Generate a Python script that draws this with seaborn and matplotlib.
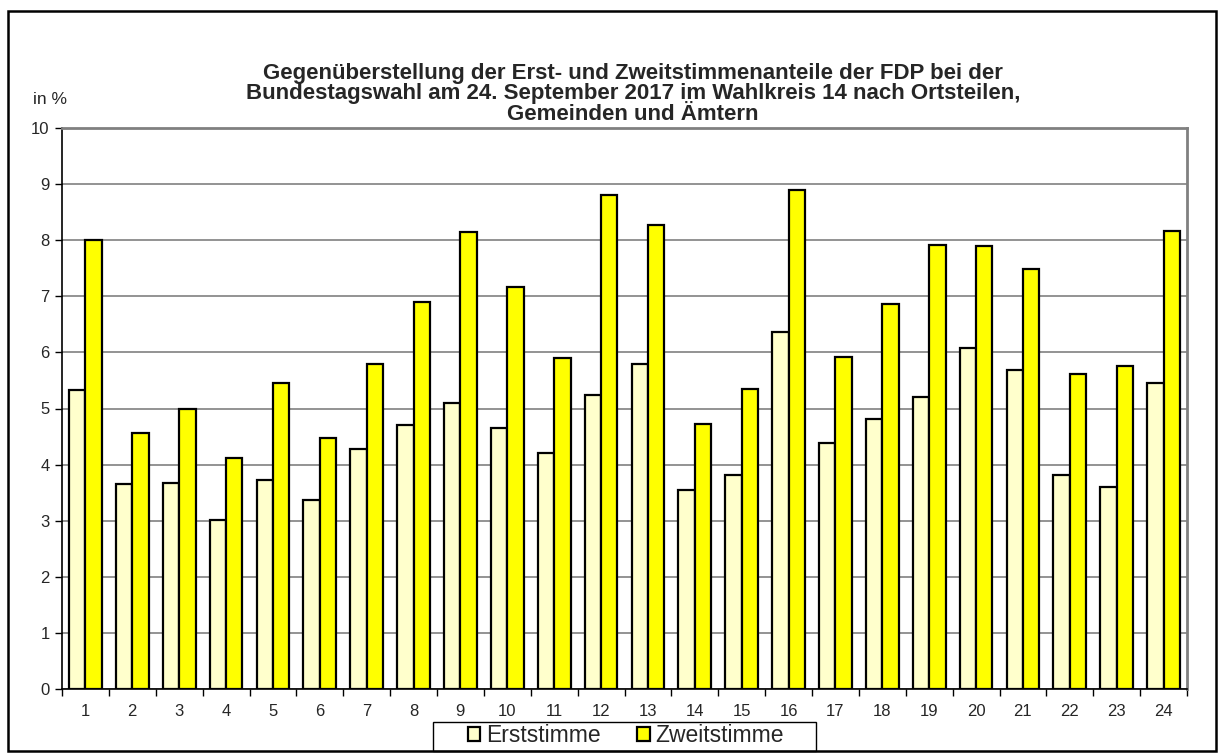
import pandas as pd
import matplotlib
matplotlib.use('Agg')
import matplotlib.pyplot as plt
import seaborn as sns
from matplotlib.patches import Rectangle, Patch

# Daten (Anteile in %)
gebiete = [str(i) for i in range(1, 25)]
erststimme = [5.33, 3.65, 3.67, 3.02, 3.73, 3.37, 4.28, 4.71, 5.10, 4.65, 4.20, 5.24,
              5.79, 3.55, 3.82, 6.36, 4.38, 4.81, 5.20, 6.07, 5.69, 3.82, 3.60, 5.45]
zweitstimme = [8.00, 4.56, 4.99, 4.12, 5.45, 4.47, 5.79, 6.89, 8.14, 7.17, 5.90, 8.80,
               8.27, 4.72, 5.35, 8.89, 5.92, 6.86, 7.92, 7.89, 7.48, 5.61, 5.76, 8.16]
serien = ['Erststimme', 'Zweitstimme']
farben = {'Erststimme': '#FFFFCC', 'Zweitstimme': '#FFFF00'}

df = pd.DataFrame({
    'Gebiet': gebiete * 2,
    'Stimme': [serien[0]] * len(gebiete) + [serien[1]] * len(gebiete),
    'Anteil': erststimme + zweitstimme,
})

sns.set_theme(style='white')
plt.rcParams['font.family'] = ['Liberation Sans', 'DejaVu Sans']

W, H = 1220, 753
fig = plt.figure(figsize=(12.2, 7.53), dpi=100)
ax = fig.add_axes([62 / W, 1 - 689 / H, (1187 - 62) / W, (689 - 128) / H])

sns.barplot(data=df, x='Gebiet', y='Anteil', hue='Stimme', hue_order=serien,
            palette=farben, width=0.7, edgecolor='black', linewidth=1.6,
            saturation=1, errorbar=None, legend=False, ax=ax, zorder=3)

ax.set_ylim(0, 10)
ax.set_xlim(-0.5, len(gebiete) - 0.5)
ax.set_yticks(range(0, 11))
ax.yaxis.grid(True, color='#808080', linewidth=1.2, zorder=0)
ax.set_axisbelow(True)
ax.set_xlabel('')
ax.set_ylabel('')

# Achsen: links/unten schwarz, oben/rechts grau
for s in ['left', 'bottom']:
    ax.spines[s].set_color('black')
    ax.spines[s].set_linewidth(1.2)
for s in ['top', 'right']:
    ax.spines[s].set_color('#808080')
    ax.spines[s].set_linewidth(2)

ax.tick_params(axis='y', length=5, width=1, color='black', labelsize=12, pad=4, left=True)
ax.tick_params(axis='x', which='major', length=0, labelsize=12, pad=11)
ax.set_xticks([i + 0.5 for i in range(-1, len(gebiete))], minor=True)
ax.tick_params(axis='x', which='minor', length=5, width=1, color='black', bottom=True)

fig.text(0.519, 1 - 94 / H,
         'Gegenüberstellung der Erst- und Zweitstimmenanteile der FDP bei der\n'
         'Bundestagswahl am 24. September 2017 im Wahlkreis 14 nach Ortsteilen,\n'
         'Gemeinden und Ämtern',
         ha='center', va='center', fontsize=16, fontweight='bold', linespacing=1.0)
fig.text(33 / W, 1 - 100 / H, 'in %', ha='left', va='center', fontsize=12.5)

# Legende unten, Rahmen separat gezeichnet
handles = [Patch(facecolor=farben[s], edgecolor='black', linewidth=1.6, label=s) for s in serien]
fig.legend(handles=handles, loc='center', bbox_to_anchor=(626 / W, 1 - 736 / H),
           ncol=2, frameon=False, fontsize=16.5,
           handlelength=0.55, handleheight=0.55, handletextpad=0.25,
           columnspacing=1.6, borderpad=0.1, borderaxespad=0)
fig.patches.append(Rectangle((433 / W, 1 - 751 / H), (816 - 433) / W, 29 / H,
                             transform=fig.transFigure, fill=True, facecolor='white',
                             edgecolor='black', linewidth=1.0, zorder=0))

# Rahmen um die gesamte Grafik
fig.patches.append(Rectangle((8 / W, 0.002), (1216 - 8) / W, 1 - 11 / H - 0.002,
                             transform=fig.transFigure, fill=False,
                             edgecolor='black', linewidth=1.8))

fig.savefig('out.png', dpi=100)
plt.close(fig)
